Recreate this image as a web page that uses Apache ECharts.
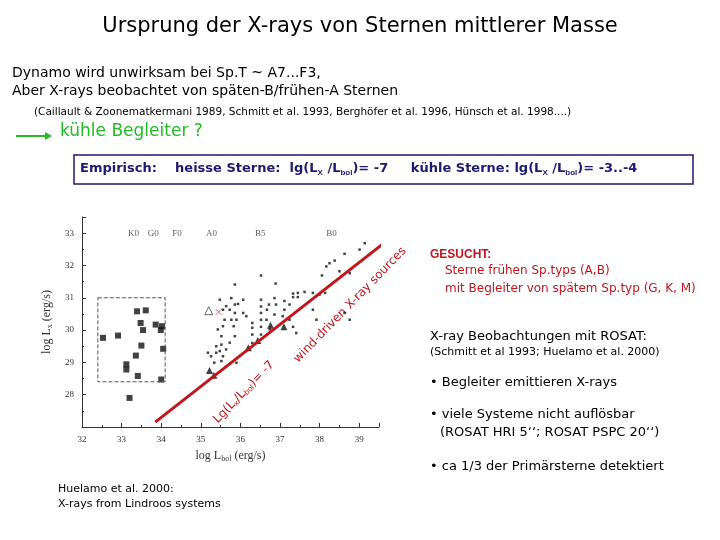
<!DOCTYPE html>
<html><head><meta charset="utf-8">
<script src="https://cdn.jsdelivr.net/npm/echarts@6/dist/echarts.min.js"></script>
<style>html,body{margin:0;background:#fff}#chart{width:720px;height:540px}</style>
</head><body><div id="chart"></div>
<script>
// late-type stars in Lindroos systems (squares)
const lateStars = [[32.53,29.76],[32.91,29.83],[33.12,28.94],[33.12,28.78],[33.36,29.21],[33.39,30.58],
  [33.41,28.58],[33.2,27.9],[33.48,30.22],[33.5,29.52],[33.54,30.0],[33.61,30.61],[33.86,30.17],
  [33.99,30.0],[34.02,30.12],[34.05,29.42],[34.0,28.47]]
const primaries = [[35.22,28.75],[35.33,28.6],[36.2,29.45],[36.44,29.68],[36.76,30.15],[37.1,30.1]]
const openTri = [[35.2,30.6]]
const redCross = [[35.45,30.56]]
const earlyStars = [[39.01,32.49],[39.14,32.69],[38.63,32.36],[38.38,32.15],[38.25,32.07],[38.17,31.97],
  [38.06,31.69],[38.5,31.82],[38.76,31.76],[38.14,31.15],[38.0,31.1],[37.83,31.15],[37.62,31.18],
  [37.45,31.15],[37.33,31.13],[37.33,31.02],[37.45,31.02],[37.24,30.79],[37.11,30.9],[37.11,30.63],
  [36.89,31.44],[36.86,30.99],[36.72,30.79],[36.67,30.63],[36.86,30.48],[37.07,30.43],[37.24,30.32],
  [37.33,30.1],[37.41,29.91],[37.83,30.63],[37.92,30.32],[38.76,30.32],[38.63,30.53],[36.52,31.69],
  [36.52,30.94],[36.52,30.73],[36.52,30.53],[36.52,30.32],[36.52,30.1],[36.52,29.86],[36.3,30.22],
  [36.3,30.07],[36.3,29.86],[36.3,29.6],[36.07,30.94],[35.94,30.81],[35.86,31.41],[35.86,30.79],
  [35.86,30.53],[35.9,30.32],[35.83,30.12],[35.86,29.81],[35.9,28.99],[35.77,30.99],[35.73,30.63],
  [35.77,30.32],[35.64,30.74],[35.56,30.63],[35.6,30.32],[35.56,30.12],[35.52,29.81],[35.48,30.94],
  [35.52,29.55],[35.48,29.35],[35.56,29.19],[35.52,29.04],[35.39,29.3],[35.39,29.5],[35.43,30.02],
  [35.18,29.3],[35.26,29.19],[35.34,28.99],[35.73,29.61],[35.64,29.4],[36.07,30.53],[36.15,30.43],
  [36.66,30.32],[36.74,30.02],[36.9,30.79]]
const spTypes = ['K0','G0','F0','A0','B5','B0']
const spTypeX = [33.3,33.8,34.4,35.27,36.5,38.3]
const windLine = [[33.85,27.15],[40.1,33.15]]
const lindroosBox = [[32.4,31.0],[34.1,31.0],[34.1,28.4],[32.4,28.4],[32.4,31.0]]

const F = '"DejaVu Sans", sans-serif'
const txt = (x, y, text, size, color, extra) => ({type:'text', left:x, top:y,
  style:Object.assign({text, font:size+'px '+F, fill:color}, extra || {})})

const myChart = echarts.init(document.getElementById('chart'))
const grey = '#333'
const axName = {fontFamily:'Liberation Serif', fontSize:12, color:grey,
  rich:{a:{fontFamily:'Liberation Serif', fontSize:12, color:grey}, s:{fontFamily:'Liberation Serif', fontSize:8, color:grey, padding:[6,0,0,0]}}}
myChart.setOption({
  animation:false,
  grid:{left:82, top:217, width:297, height:210},
  xAxis:{type:'value', min:32, max:39.5, interval:1,
    name:'{a|log L}{s|bol}{a| (erg/s)}', nameLocation:'middle', nameGap:22, nameTextStyle:axName,
    axisLine:{onZero:false, lineStyle:{color:grey}}, axisTick:{inside:true, length:4},
    minorTick:{show:true, splitNumber:2, length:2},
    axisLabel:{fontFamily:'Liberation Serif', fontSize:9, color:grey, showMaxLabel:false},
    splitLine:{show:false}},
  yAxis:{type:'value', min:27, max:33.5, interval:1,
    name:'{a|log L}{s|x}{a| (erg/s)}', nameLocation:'middle', nameGap:28, nameTextStyle:axName,
    axisLine:{onZero:false, lineStyle:{color:grey}}, axisTick:{inside:true, length:4},
    minorTick:{show:true, splitNumber:2, length:2},
    axisLabel:{fontFamily:'Liberation Serif', fontSize:9, color:grey, showMinLabel:false, showMaxLabel:false},
    splitLine:{show:false}},
  series:[
    {type:'line', data:lindroosBox, symbol:'none', lineStyle:{color:'#555', width:1, type:'dashed'}},
    {type:'scatter', data:earlyStars, symbol:'rect', symbolSize:2.5, itemStyle:{color:'#111'}},
    {type:'scatter', data:lateStars, symbol:'rect', symbolSize:6, itemStyle:{color:'#111'}},
    {type:'scatter', data:primaries, symbol:'triangle', symbolSize:7, itemStyle:{color:'#111'}},
    {type:'scatter', data:openTri, symbol:'triangle', symbolSize:8, itemStyle:{color:'#fff', borderColor:'#444', borderWidth:1}},
    {type:'scatter', data:redCross, symbol:'path://M0,0L10,10M10,0L0,10', symbolSize:6,
      itemStyle:{color:'none', borderColor:'#c44', borderWidth:1}},
    {type:'scatter', data:spTypeX.map(x => [x,33]), symbolSize:0,
      label:{show:true, position:'inside', formatter:p => spTypes[p.dataIndex], fontFamily:'Liberation Serif', fontSize:9, color:grey}},
    {type:'line', data:windLine, symbol:'none', clip:false, z:5, lineStyle:{color:'#c0161c', width:3}}
  ],
  graphic:[
    {type:'text', x:360, y:16, style:{text:'Ursprung der X-rays von Sternen mittlerer Masse', font:'21px '+F, fill:'#000', textAlign:'center'}},
    txt(12, 66, 'Dynamo wird unwirksam bei Sp.T ~ A7...F3,', 14, '#000'),
    txt(12, 84, 'Aber X-rays beobachtet von späten-B/frühen-A Sternen', 14, '#000'),
    txt(34, 107, '(Caillault & Zoonematkermani 1989, Schmitt et al. 1993, Berghöfer et al. 1996, Hünsch et al. 1998....)', 10.5, '#000'),
    {type:'line', shape:{x1:16, y1:136, x2:48, y2:136}, style:{stroke:'#22bb22', lineWidth:2}},
    {type:'polygon', shape:{points:[[52,136],[45,132],[45,140]]}, style:{fill:'#22bb22'}},
    txt(60, 123, 'kühle Begleiter ?', 17, '#22bb22'),
    {type:'rect', shape:{x:74, y:155, width:619, height:29}, style:{fill:'none', stroke:'#1a1a6e', lineWidth:1.5}},
    {type:'text', left:80, top:162, style:{text:'Empirisch:    heisse Sterne:  lg(L{s|X} /L{s|bol})= -7     kühle Sterne: lg(L{s|X} /L{s|bol})= -3..-4',
      font:'bold 13px '+F, fill:'#1a1a6e', rich:{s:{fontSize:8, fontWeight:'bold', fill:'#1a1a6e', padding:[8,0,0,0]}}}},
    txt(430, 249, 'GESUCHT:', 13, '#c0161c', {fontWeight:'bold'}),
    txt(445, 265, 'Sterne frühen Sp.typs (A,B)', 12, '#c0161c'),
    txt(445, 283, 'mit Begleiter von spätem Sp.typ (G, K, M)', 12, '#c0161c'),
    txt(430, 330, 'X-ray Beobachtungen mit ROSAT:', 13, '#000'),
    txt(430, 347, '(Schmitt et al 1993; Huelamo et al. 2000)', 11, '#000'),
    txt(430, 376, '• Begleiter emittieren X-rays', 13, '#000'),
    txt(430, 408, '• viele Systeme nicht auflösbar', 13, '#000'),
    txt(440, 426, '(ROSAT HRI 5‘‘; ROSAT PSPC 20‘‘)', 13, '#000'),
    txt(430, 460, '• ca 1/3 der Primärsterne detektiert', 13, '#000'),
    txt(58, 484, 'Huelamo et al. 2000:', 11, '#000'),
    txt(58, 499, 'X-rays from Lindroos systems', 11, '#000'),
    {type:'text', x:244, y:392, rotation:0.8, style:{text:'Lg(L{s|x}/L{s|bol})= -7', font:'12px '+F, fill:'#c0161c',
      textAlign:'center', textVerticalAlign:'middle', rich:{s:{fontSize:8, fill:'#c0161c', padding:[5,0,0,0]}}}},
    {type:'text', x:350, y:305, rotation:0.8, style:{text:'wind-driven X-ray sources', font:'12px '+F, fill:'#c0161c',
      textAlign:'center', textVerticalAlign:'middle'}}
  ]
})
</script></body></html>
